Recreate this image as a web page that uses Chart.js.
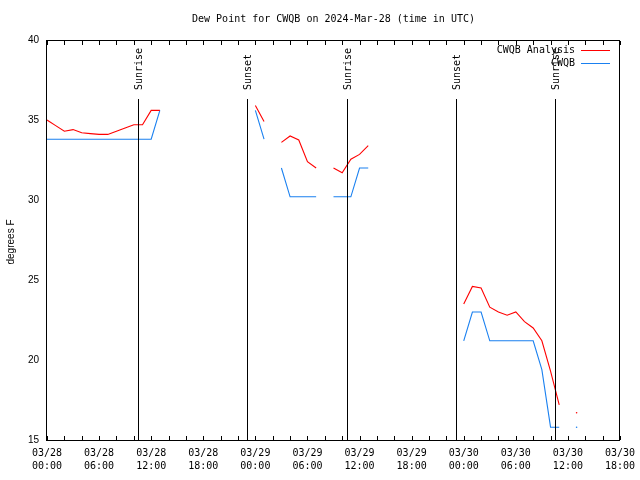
<!DOCTYPE html>
<html>
<head>
<meta charset="utf-8">
<script src="https://cdn.jsdelivr.net/npm/chart.js@4/dist/chart.umd.min.js"></script>
<style>
html,body{margin:0;padding:0;background:#fff;}
#wrap{width:640px;height:480px;position:relative;}
</style>
</head>
<body>
<div id="wrap"><canvas id="c" width="640" height="480"></canvas></div>
<script>
// ---- data (hours since 03/28 00:00 UTC) ----
const hours = [0,1,2,3,4,5,6,7,8,9,10,11,12,13,14,15,16,17,18,19,20,21,22,23,24,25,26,27,28,29,30,31,32,33,34,35,36,37,38,39,40,41,42,43,44,45,46,47,48,49,50,51,52,53,54,55,56,57,58,59,60,61,62,63,64,65,66];
const analysisDew = [35.0,34.65,34.3,34.4,34.2,34.15,34.1,34.1,34.3,34.5,34.7,34.7,35.6,35.6,
  null,null,null,null,null,null,null,null,null,null,
  35.9,34.9,null,33.6,34.0,33.75,32.4,32.0,null,32.0,31.7,32.55,32.85,33.4,
  null,null,null,null,null,null,null,null,null,null,
  23.5,24.6,24.5,23.3,23.0,22.8,23.0,22.4,22.0,21.2,19.3,17.2,null,16.7,
  null,null,null,null,null];
const stationDew = [33.8,33.8,33.8,33.8,33.8,33.8,33.8,33.8,33.8,33.8,33.8,33.8,33.8,35.6,
  null,null,null,null,null,null,null,null,null,null,
  35.6,33.8,null,32.0,30.2,30.2,30.2,30.2,null,30.2,30.2,30.2,32.0,32.0,
  null,null,null,null,null,null,null,null,null,null,
  21.2,23.0,23.0,21.2,21.2,21.2,21.2,21.2,21.2,19.4,15.8,15.8,null,15.8,
  null,null,null,null,null];
const seriesNames = ['CWQB Analysis','CWQB'];
const tickHours = [0,6,12,18,24,30,36,42,48,54,60,66];
const tickDates = ['03/28','03/28','03/28','03/28','03/29','03/29','03/29','03/29','03/30','03/30','03/30','03/30'];
const tickTimes = ['00:00','06:00','12:00','18:00','00:00','06:00','12:00','18:00','00:00','06:00','12:00','18:00'];
const minorTickHours = [0,2,4,6,8,10,12,14,16,18,20,22,24,26,28,30,32,34,36,38,40,42,44,46,48,50,52,54,56,58,60,62,64,66];
const yTicks = [15,20,25,30,35,40];
const sunEventHours = [10.47, 23.0, 34.5, 47.12, 58.53];
const sunEventNames = ['Sunrise','Sunset','Sunrise','Sunset','Sunrise'];
const titleText = 'Dew Point for CWQB on 2024-Mar-28 (time in UTC)';
const yTitle = 'degrees F';

const RED = '#ff0000';
const BLUE = '#1a80f0';
const MONO = 'DejaVu Sans Mono';

function pts(vals){ return hours.map((h,i)=>({x:h,y:vals[i]})); }
function isoRadius(ctx){
  const d = ctx.dataset.data, i = ctx.dataIndex;
  if (!d[i] || d[i].y == null) return 0;
  const prev = i>0 ? d[i-1].y : null, next = i<d.length-1 ? d[i+1].y : null;
  return (prev==null && next==null) ? 0.8 : 0;
}

const gp = {
  id:'gp',
  afterDraw(chart){
    const c = chart.ctx, a = chart.chartArea, xs = chart.scales.x;
    c.save();
    // border
    c.strokeStyle = '#000'; c.lineWidth = 1;
    c.strokeRect(a.left-0.5, a.top+0.5, a.right-a.left, a.bottom-a.top);
    // inward ticks top & bottom
    c.beginPath();
    minorTickHours.forEach(h=>{
      const x = Math.round(xs.getPixelForValue(h))+0.5;
      c.moveTo(x, a.bottom); c.lineTo(x, a.bottom-4);
      c.moveTo(x, a.top+1); c.lineTo(x, a.top+5);
    });
    c.stroke();
    c.font = '10px "'+MONO+'"';
    c.fillStyle = '#000';
    // x tick labels
    c.textAlign='center'; c.textBaseline='middle';
    tickHours.forEach((h,i)=>{
      const x = xs.getPixelForValue(h);
      c.fillText(tickDates[i], x, 453);
      c.fillText(tickTimes[i], x, 466);
    });
    // sunrise / sunset lines and labels
    sunEventHours.forEach((h,i)=>{
      const x = Math.round(xs.getPixelForValue(h))+0.5;
      c.beginPath(); c.moveTo(x, 99); c.lineTo(x, a.bottom); c.stroke();
      c.save(); c.translate(x+1, 90); c.rotate(-Math.PI/2);
      c.textAlign='left'; c.textBaseline='middle';
      c.fillText(sunEventNames[i], 0, 0);
      c.restore();
    });
    // title
    c.textAlign='center'; c.textBaseline='middle';
    c.fillText(titleText, (a.left+a.right)/2, 19.5);
    // y title
    c.save(); c.translate(11, 242); c.rotate(-Math.PI/2);
    c.font = '10px "Liberation Sans"';
    c.fillText(yTitle, 0, 0);
    c.restore();
    // legend
    c.textAlign='right';
    const cols=[RED,BLUE];
    seriesNames.forEach((n,i)=>{
      const y = 50 + i*13;
      c.fillStyle='#000';
      c.fillText(n, 575, y);
      c.strokeStyle=cols[i];
      c.beginPath(); c.moveTo(581, y+0.5); c.lineTo(610, y+0.5); c.stroke();
    });
    c.restore();
  }
};

new Chart(document.getElementById('c'), {
  type:'line',
  data:{ datasets:[
    {label:seriesNames[0], data:pts(analysisDew), borderColor:RED, backgroundColor:RED, borderWidth:1.1, tension:0,
     pointRadius:isoRadius, pointBackgroundColor:RED, pointBorderWidth:0, pointHoverRadius:0},
    {label:seriesNames[1], data:pts(stationDew), borderColor:BLUE, backgroundColor:BLUE, borderWidth:1.1, tension:0,
     pointRadius:isoRadius, pointBackgroundColor:BLUE, pointBorderWidth:0, pointHoverRadius:0}
  ]},
  options:{
    responsive:false, animation:false, devicePixelRatio:1,
    layout:{padding:{top:40,right:20,left:0,bottom:0}},
    plugins:{legend:{display:false}, tooltip:{enabled:false}},
    scales:{
      x:{type:'linear', min:0, max:66,
        afterBuildTicks(s){ s.ticks = tickHours.map(v=>({value:v})); },
        afterFit(s){ s.height = 40; },
        grid:{display:false, drawTicks:false}, border:{display:false},
        ticks:{display:false}
      },
      y:{type:'linear', min:15, max:40,
        afterBuildTicks(s){ s.ticks = yTicks.map(v=>({value:v})); },
        afterFit(s){ s.width = 47; },
        grid:{display:false, drawTicks:false}, border:{display:false},
        ticks:{padding:8, color:'#000', font:{family:'Liberation Sans', size:10}}
      }
    }
  },
  plugins:[gp]
});
</script>
</body>
</html>
